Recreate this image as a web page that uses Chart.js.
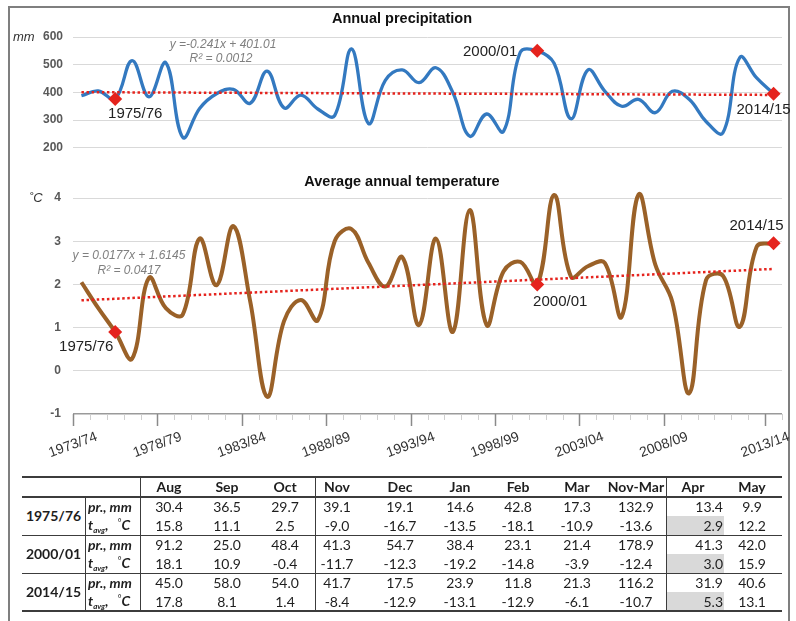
<!DOCTYPE html>
<html>
<head>
<meta charset="utf-8">
<title>Annual precipitation and average annual temperature</title>
<script src="https://cdn.jsdelivr.net/npm/chart.js@4.4.1/dist/chart.umd.min.js"></script>
<style>
  html, body { margin:0; padding:0; background:#fff; }
  body { position:relative; width:796px; height:621px; overflow:hidden; font-family:"Liberation Sans", Arial, sans-serif; }
  #frame { position:absolute; left:8px; top:6px; width:782px; height:640px; border:2px solid #7f7f7f; box-sizing:border-box; }
  canvas { position:absolute; left:0; }
  #precipChart { top:0; }
  #tempChart { top:160px; }
  .cell { position:absolute; white-space:nowrap; line-height:1; font-family:Lato, "Open Sans", sans-serif; font-size:14px; color:#1e1e1e; }
  .hd { font-weight:700; }
  .lab { font-weight:700; font-style:italic; }
  .lab sub { font-size:8px; vertical-align:-3px; }
  .lab sup { font-size:9px; font-style:normal; font-weight:400; vertical-align:4px; }
  .rule { position:absolute; background:#3c3c3c; }
  .shade { position:absolute; background:#d9d9d9; }
</style>
</head>
<body>
<div id="frame"></div>
<canvas id="precipChart" width="796" height="165"></canvas>
<canvas id="tempChart" width="796" height="310"></canvas>
<div id="tbl"></div>
<script>
// ---- seasons (hydrological years, Aug–Jul) ----
const seasons = ['1973/74','1974/75','1975/76','1976/77','1977/78','1978/79','1979/80','1980/81',
  '1981/82','1982/83','1983/84','1984/85','1985/86','1986/87','1987/88','1988/89','1989/90',
  '1990/91','1991/92','1992/93','1993/94','1994/95','1995/96','1996/97','1997/98','1998/99',
  '1999/00','2000/01','2001/02','2002/03','2003/04','2004/05','2005/06','2006/07','2007/08',
  '2008/09','2009/10','2010/11','2011/12','2012/13','2013/14','2014/15'];

// annual precipitation, mm
const precip = [388, 405, 376, 515, 384, 507, 238, 342, 395, 411, 361, 477, 344, 390, 340, 316,
  557, 288, 443, 481, 435, 489, 400, 242, 322, 259, 545, 550, 505, 305, 481, 405, 350, 375,
  327, 404, 375, 295, 254, 526, 452, 395];

// average annual temperature, °C
const temp = [2.05, 1.45, 0.9, 0.28, 2.15, 1.45, 1.3, 3.06, 1.98, 3.35, 1.6, -0.6, 1.15, 1.64,
  1.17, 3.0, 3.28, 2.5, 1.95, 2.63, 1.06, 3.06, 0.9, 3.72, 1.06, 2.3, 2.52, 2.0, 4.07, 2.18,
  2.42, 2.5, 1.25, 4.08, 2.45, 1.6, -0.52, 2.1, 2.2, 1.02, 2.87, 2.95];

// linear trends (x = 1 for the first season)
const precipTrend = [-0.241, 401.01, '0.0012'];   // slope, intercept, R²
const tempTrend = [0.0177, 1.6145, '0.0417'];

// seasons highlighted on both charts
const markedSeasons = ['1975/76', '2000/01', '2014/15'];

// axis labelling
const xTickLabels = ['1973/74','1978/79','1983/84','1988/89','1993/94','1998/99','2003/04','2008/09','2013/14'];
const xTickAt = [0, 5, 10, 15, 20, 25, 30, 35, 41];     // category boundary carrying each label
const precipTicks = [200, 600, 100];                   // min, max, step
const tempTicks = [-1, 4, 1];

// monthly table
const tableMonths = ['Aug','Sep','Oct','Nov','Dec','Jan','Feb','Mar','Nov-Mar','Apr','May'];
const tableSeasons = ['1975/76','2000/01','2014/15'];
const monthlyPrecip = [
  [30.4, 36.5, 29.7, 39.1, 19.1, 14.6, 42.8, 17.3, 132.9, 13.4, 9.9],
  [91.2, 25.0, 48.4, 41.3, 54.7, 38.4, 23.1, 21.4, 178.9, 41.3, 42.0],
  [45.0, 58.0, 54.0, 41.7, 17.5, 23.9, 11.8, 21.3, 116.2, 31.9, 40.6]];
const monthlyTemp = [
  [15.8, 11.1, 2.5, -9.0, -16.7, -13.5, -18.1, -10.9, -13.6, 2.9, 12.2],
  [18.1, 10.9, -0.4, -11.7, -12.3, -19.2, -14.8, -3.9, -12.4, 3.0, 15.9],
  [17.8, 8.1, 1.4, -8.4, -12.9, -13.1, -12.9, -6.1, -10.7, 5.3, 13.1]];

// ---- styling ----
const BLUE = '#3379c0', BROWN = '#9a6128', RED = '#e5231d';
const SANS = '"Liberation Sans", Arial, sans-serif';
const markIdx = markedSeasons.map(s => seasons.indexOf(s));

function trendPoints(tr) {
  const n = seasons.length;
  return [{x: 0, y: tr[0] * 1 + tr[1]}, {x: n - 1, y: tr[0] * n + tr[1]}];
}
function trendText(tr) {
  return tr[0] < 0 ? `y =${tr[0]}x + ${tr[1]}` : `y = ${tr[0]}x + ${tr[1]}`;
}

function xScale() {
  return { type: 'linear', min: -0.5, max: seasons.length - 0.5, display: false };
}
function yScale(t, pad, extra) {
  return Object.assign({
    min: t[0], max: t[1],
    ticks: { stepSize: t[2], padding: pad, color: '#595959', font: { family: SANS, size: 12, weight: 'bold' } },
    grid: { color: '#d9d9d9', drawTicks: false },
    border: { display: false },
    afterFit(s) { s.width = 73; }
  }, extra || {});
}
function datasets(values, color, width, tr) {
  return [
    { data: markIdx.map(i => ({x: i, y: values[i]})), showLine: false, pointStyle: 'rectRot',
      pointRadius: 7, backgroundColor: RED, borderColor: RED, borderWidth: 0, order: 0, clip: false },
    { data: trendPoints(tr), borderColor: RED, borderWidth: 2.5, borderDash: [2.5, 2.6],
      borderCapStyle: 'butt', pointRadius: 0, tension: 0, order: 1 },
    { data: values.map((v, i) => ({x: i, y: v})), borderColor: color, borderWidth: width,
      pointRadius: 0, tension: 0.4, capBezierPoints: false, clip: false, order: 2 }
  ];
}
function txt(ctx, s, x, y, font, color, align) {
  ctx.font = font; ctx.fillStyle = color; ctx.textAlign = align || 'center'; ctx.textBaseline = 'middle';
  ctx.fillText(s, x, y);
}
function markLabels(chart, offsets) {
  const pts = chart.getDatasetMeta(0).data;
  offsets.forEach((o, j) => {
    txt(chart.ctx, markedSeasons[j], pts[j].x + o[0], pts[j].y + o[1], '15px ' + SANS, '#222', o[2]);
  });
}

const baseOptions = {
  responsive: false, animation: false, events: [], devicePixelRatio: 1,
  plugins: { legend: { display: false }, tooltip: { enabled: false } }
};

// ---- precipitation ----
new Chart(document.getElementById('precipChart'), {
  type: 'line',
  data: { datasets: datasets(precip, BLUE, 3.3, precipTrend) },
  options: Object.assign({}, baseOptions, {
    layout: { padding: { left: 0, right: 14, top: 37, bottom: 11 } },
    scales: { x: xScale(), y: yScale(precipTicks, 10) }
  }),
  plugins: [{
    id: 'precipDecor',
    afterDraw(chart) {
      const ctx = chart.ctx;
      ctx.save();
      txt(ctx, 'Annual precipitation', 402, 19, 'bold 14.5px ' + SANS, '#111');
      txt(ctx, 'mm', 13, 37, 'italic 13px ' + SANS, '#333', 'left');
      txt(ctx, trendText(precipTrend), 223, 45, 'italic 12px ' + SANS, '#7f7f7f');
      txt(ctx, 'R\u00B2 = ' + precipTrend[2], 221, 59, 'italic 12px ' + SANS, '#7f7f7f');
      markLabels(chart, [[20, 15, 'center'], [-20, 1, 'right'], [-10, 16, 'center']]);
      ctx.restore();
    }
  }]
});

// ---- temperature ----
new Chart(document.getElementById('tempChart'), {
  type: 'line',
  data: { datasets: datasets(temp, BROWN, 4, tempTrend) },
  options: Object.assign({}, baseOptions, {
    layout: { padding: { left: 0, right: 14, top: 38, bottom: 56 } },
    scales: {
      x: xScale(),
      y: yScale(tempTicks, 12, {
        grid: {
          drawTicks: false,
          color: c => (c.tick && c.tick.value === tempTicks[0]) ? '#9a9a9a' : '#d9d9d9',
          lineWidth: c => (c.tick && c.tick.value === tempTicks[0]) ? 1.5 : 1
        }
      })
    }
  }),
  plugins: [{
    id: 'tempDecor',
    afterDraw(chart) {
      const ctx = chart.ctx, x = chart.scales.x, y = chart.scales.y;
      const base = y.getPixelForValue(tempTicks[0]);
      ctx.save();
      txt(ctx, 'Average annual temperature', 402, 22, 'bold 14.5px ' + SANS, '#111');
      txt(ctx, '\u02DAC', 29, 38, 'italic 13px ' + SANS, '#333', 'left');
      txt(ctx, trendText(tempTrend), 129, 96, 'italic 12px ' + SANS, '#7f7f7f');
      txt(ctx, 'R\u00B2 = ' + tempTrend[2], 129, 111, 'italic 12px ' + SANS, '#7f7f7f');
      markLabels(chart, [[-29, 15, 'center'], [23, 17, 'center'], [-17, -18, 'center']]);

      // category boundary ticks along the bottom axis
      for (let k = 0; k <= seasons.length; k++) {
        const px = Math.round(x.getPixelForValue(k - 0.5)) + 0.5;
        const major = xTickAt.includes(k);
        ctx.strokeStyle = major ? '#8a8a8a' : '#cfcfcf';
        ctx.lineWidth = major ? 1.5 : 1;
        ctx.beginPath(); ctx.moveTo(px, base); ctx.lineTo(px, base + (major ? 12 : 6)); ctx.stroke();
      }
      xTickAt.forEach((k, j) => {
        const px = x.getPixelForValue(k - 0.5);
        ctx.save();
        ctx.translate(px, base + 31);
        ctx.rotate(-20 * Math.PI / 180);
        txt(ctx, xTickLabels[j], 0, 0, '14px ' + SANS, '#333');
        ctx.restore();
      });
      ctx.restore();
    }
  }]
});

// ---- monthly table ----
const tbl = document.getElementById('tbl');
function put(x, y, html, cls, align) {
  const d = document.createElement('div');
  d.className = 'cell ' + (cls || '');
  d.innerHTML = html;
  d.style.left = x + 'px';
  d.style.top = y + 'px';
  d.style.transform = align === 'right' ? 'translate(-100%,-50%)'
    : align === 'left' ? 'translate(0,-50%)' : 'translate(-50%,-50%)';
  tbl.appendChild(d);
}
function box(cls, x, y, w, h) {
  const d = document.createElement('div');
  d.className = cls;
  Object.assign(d.style, { left: x + 'px', top: y + 'px', width: w + 'px', height: h + 'px' });
  tbl.appendChild(d);
}

const T = { left: 22, right: 782, top: 477, head: 497, group: 38, bottom: 611 };
const colX = [169, 227, 285, 337, 400, 460, 518, 577, 636, 723, 752];
const aprHead = 693;

// Apr temperature cells are shaded
tableSeasons.forEach((s, g) => box('shade', 667, T.head + g * T.group + T.group / 2, 57, T.group / 2));

box('rule', T.left, T.top - 1, T.right - T.left, 2);
box('rule', T.left, T.head - 0.75, T.right - T.left, 1.5);
box('rule', T.left, T.head + T.group - 0.5, T.right - T.left, 1);
box('rule', T.left, T.head + 2 * T.group - 0.5, T.right - T.left, 1);
box('rule', T.left, T.bottom - 1, T.right - T.left, 2);
box('rule', 85, T.head, 1, T.bottom - T.head);
[140, 315, 666].forEach(x => box('rule', x - 0.5, T.top, 1.2, T.bottom - T.top));

const headY = (T.top + T.head) / 2;
tableMonths.forEach((m, c) => put(c === 9 ? aprHead : colX[c], headY, m, 'hd'));

tableSeasons.forEach((s, g) => {
  const y0 = T.head + g * T.group;
  const yPr = y0 + T.group / 4, yT = y0 + 3 * T.group / 4;
  put(53.5, y0 + T.group / 2, s, 'hd');
  put(88, yPr, 'pr., mm', 'lab', 'left');
  put(88, yT, 't<sub>avg</sub>,&nbsp;&nbsp;&nbsp;<sup>\u00B0</sup>C', 'lab', 'left');
  monthlyPrecip[g].forEach((v, c) => put(colX[c], yPr, v.toFixed(1), '', c === 9 ? 'right' : 'center'));
  monthlyTemp[g].forEach((v, c) => put(colX[c], yT, v.toFixed(1), '', c === 9 ? 'right' : 'center'));
});
</script>
</body>
</html>
